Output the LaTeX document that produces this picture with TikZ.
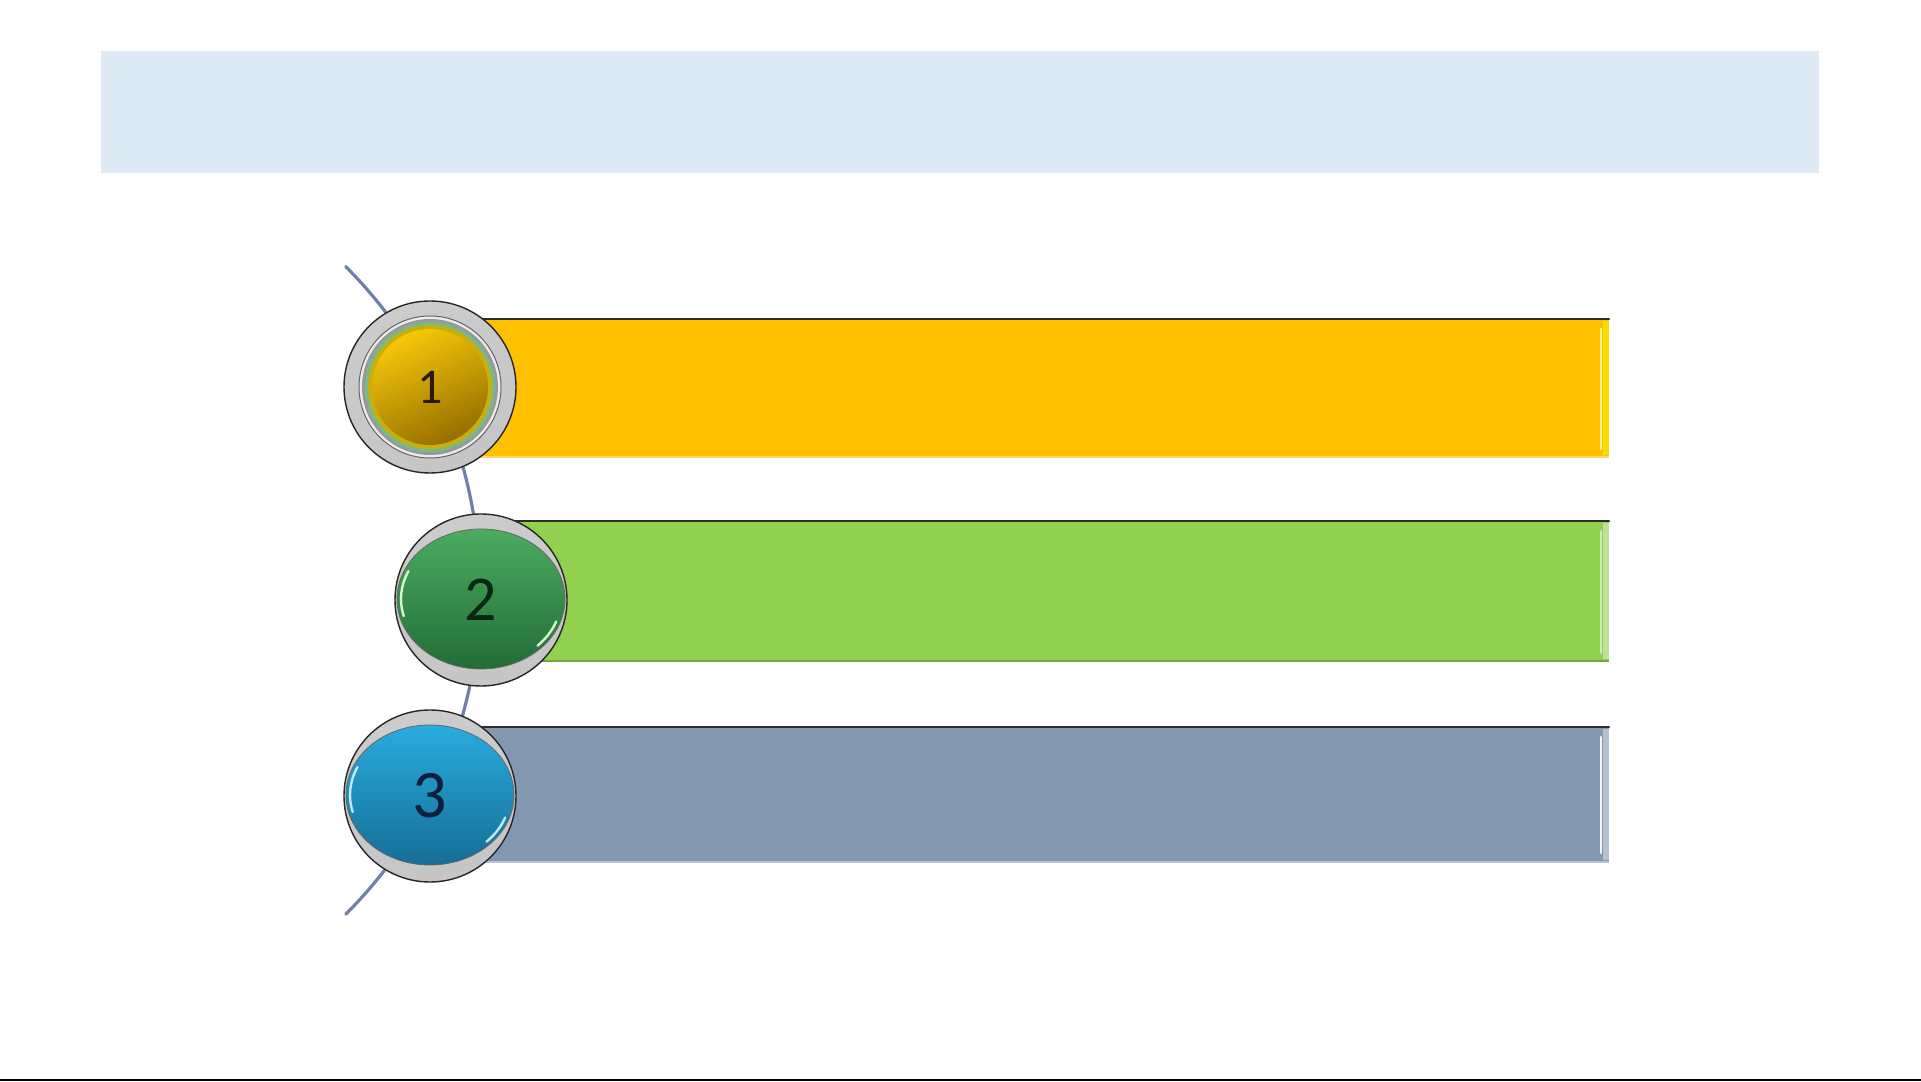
\documentclass[tikz,border=0pt]{standalone}
\usepackage{fontspec}
\setmainfont{Carlito}
\usepackage{tikz}

\tikzset{
  barEdge/.style={draw=drawColor,line width=1pt,line cap=round},
  silverRing/.style={draw=black!85,line width=0.7pt,shading=axis,top color=white!60!gray,middle color=white,bottom color=white!55!gray,shading angle=15},
  numLabel/.style={circle,minimum size=86pt,inner sep=0pt,outer sep=0pt}
}

\begin{document}
\begin{tikzpicture}[x=0.5pt,y=0.5pt]
\definecolor{fillColor}{RGB}{255,255,255}
\path[use as bounding box,fill=fillColor] (0,0) rectangle (1921,1081);
\definecolor{drawColor}{RGB}{0,0,0}

% title band
\definecolor{fillColor}{RGB}{222,234,246}
\path[fill=fillColor] (100.5,908.3) rectangle (1819.3,1029.5);

% page edge
\path[draw=drawColor,line width=1pt] (0,1.5) -- (1921,1.5);

% the thread behind the buttons
\definecolor{threadColor}{RGB}{112,128,170}
\coordinate (threadTop) at (345.7,814.4);
\coordinate (threadBot) at (345.7,166.6);
\path[draw=threadColor,line width=1.6pt,line cap=round] (threadTop) arc[start angle=45,end angle=-45,radius=229pt];

% bars
\definecolor{drawColor}{RGB}{45,45,45}
\definecolor{fillColor}{RGB}{255,192,0}
\path[fill=fillColor] (470,623) rectangle (1609,762);
\path[fill=yellow!55!fillColor] (1603,626) rectangle (1609,760);
\path[draw=yellow!45!white,line width=1.3pt,line cap=round] (1601,632) -- (1601,752);
\path[draw=fillColor!60!white,line width=0.8pt] (470,624) -- (1609,624);
\path[barEdge] (470,762) -- (1609,762);

\definecolor{fillColor}{RGB}{146,208,80}
\path[fill=fillColor] (500,419) rectangle (1609,560);
\path[fill=fillColor!60!white] (1603,422) rectangle (1609,558);
\path[draw=fillColor!45!white,line width=1.3pt,line cap=round] (1601,428) -- (1601,550);
\path[draw=fillColor!80!black,line width=0.8pt] (500,420) -- (1609,420);
\path[barEdge] (500,560) -- (1609,560);

\definecolor{fillColor}{RGB}{132,151,176}
\path[fill=fillColor] (470,218) rectangle (1609,354);
\path[fill=fillColor!60!white] (1603,221) rectangle (1609,352);
\path[draw=white!90!fillColor,line width=1.3pt,line cap=round] (1601,228) -- (1601,344);
\path[draw=fillColor!60!white,line width=0.8pt] (470,219) -- (1609,219);
\path[barEdge] (470,354) -- (1609,354);

% button 1
\path[silverRing] (430,694) circle[radius=43pt];
\path[draw=black!60,line width=0.5pt,fill=white!85!gray] (430,694) circle[radius=35.5pt];
\path[fill=black!40] (430,694) circle[radius=34pt];
\path[fill={rgb,255:red,120;green,185;blue,140}] (430,694) circle[radius=32.5pt];
\path[fill={rgb,255:red,200;green,175;blue,10}] (430,694) circle[radius=31pt];
\path[shading=axis,top color={rgb,255:red,245;green,200;blue,10},bottom color={rgb,255:red,150;green,110;blue,0},shading angle=25] (430,694) circle[radius=29pt];
\node[numLabel,text={rgb,255:red,40;green,28;blue,5},font=\fontsize{25pt}{25pt}\selectfont] (num1) at (430,694) {1};

% button 2
\path[silverRing] (481,481) circle[radius=43pt];
\path[shading=axis,top color={rgb,255:red,75;green,172;blue,95},bottom color={rgb,255:red,35;green,108;blue,55},draw=black!60,line width=0.4pt] (481,482) ellipse[x radius=42pt,y radius=35pt];
\path[draw=white!80!green,line width=1.2pt,line cap=round] (481,482) ++(155:40pt and 33pt) arc[start angle=155,end angle=195,x radius=40pt,y radius=33pt];
\path[draw=white!80!green,line width=1.2pt,line cap=round] (481,482) ++(-20:40pt and 33pt) arc[start angle=-20,end angle=-45,x radius=40pt,y radius=33pt];
\node[numLabel,text={rgb,255:red,10;green,38;blue,18},font=\fontsize{32pt}{32pt}\selectfont] (num2) at (481,481) {2};

% button 3
\path[silverRing] (430,285) circle[radius=43pt];
\path[shading=axis,top color={rgb,255:red,40;green,172;blue,222},bottom color={rgb,255:red,22;green,110;blue,150},draw=black!60,line width=0.4pt] (430,286) ellipse[x radius=42pt,y radius=35pt];
\path[draw=white!75!cyan,line width=1.2pt,line cap=round] (430,286) ++(155:40pt and 33pt) arc[start angle=155,end angle=195,x radius=40pt,y radius=33pt];
\path[draw=white!75!cyan,line width=1.2pt,line cap=round] (430,286) ++(-20:40pt and 33pt) arc[start angle=-20,end angle=-45,x radius=40pt,y radius=33pt];
\node[numLabel,text={rgb,255:red,15;green,30;blue,60},font=\fontsize{34pt}{34pt}\selectfont] (num3) at (430,285) {3};
\end{tikzpicture}
\end{document}
